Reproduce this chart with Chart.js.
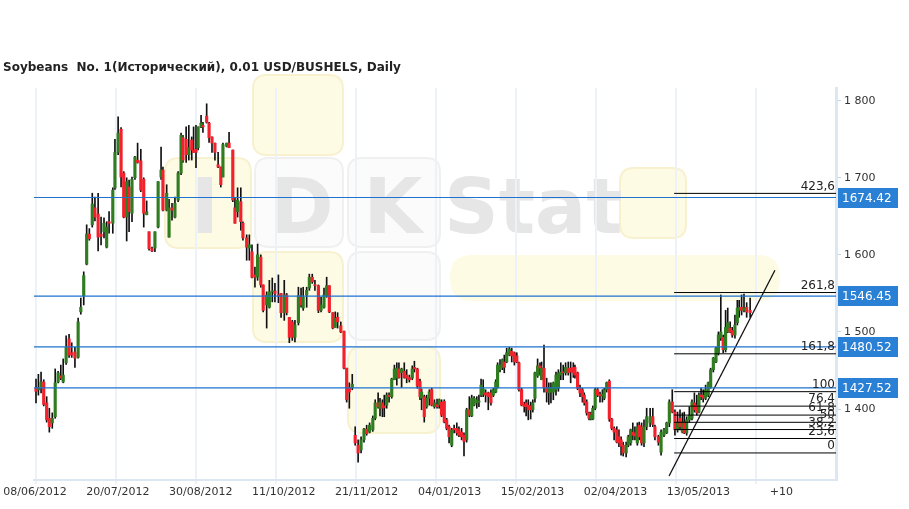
<!DOCTYPE html>
<html>
<head>
<meta charset="utf-8">
<script src="https://cdn.jsdelivr.net/npm/chart.js@4.4.1/dist/chart.umd.min.js"></script>
<style>
  html, body { margin: 0; padding: 0; background: #fff; }
  #wrap { width: 909px; height: 509px; }
</style>
</head>
<body>
<div id="wrap"><canvas id="chart" width="909" height="509"></canvas></div>
<script>
// ========================================
// DATA
// ========================================

const TITLE = 'Soybeans  No. 1(Исторический), 0.01 USD/BUSHELS, Daily';

// x labels (they sit a little off the 30-bar grid, as in the source chart)
const X_TICK_LABELS = ['08/06/2012', '20/07/2012', '30/08/2012', '11/10/2012', '21/11/2012',
    '04/01/2013', '15/02/2013', '02/04/2013', '13/05/2013', '+10'];
const X_GRID_STEP = 30;
const X_LABEL_STEP = 31.1;

const Y_TICKS = [1400, 1500, 1600, 1700, 1800];

// bar position (trading days from 08/06/2012)
const BAR_POS = [
    0, 0.9, 1.9, 2.9, 4.0, 5.0, 6.1, 7.2, 8.3, 9.3,
    10.2, 11.3, 12.4, 13.4, 14.6, 15.8, 16.8, 17.9, 19.0, 20.0,
    21.1, 22.1, 23.3, 24.4, 25.5, 26.5, 27.4, 28.8, 29.6, 30.8,
    31.9, 32.9, 34.0, 34.9, 36.0, 37.1, 38.1, 39.3, 40.4, 41.5,
    42.4, 43.5, 44.6, 45.8, 46.9, 47.6, 49.0, 49.9, 51.0, 52.1,
    53.3, 54.4, 55.1, 56.3, 57.3, 58.4, 59.1, 60.0, 60.8, 61.9,
    62.6, 64.0, 64.9, 66.0, 67.1, 68.3, 69.3, 70.1, 71.5, 72.4,
    73.8, 74.6, 75.6, 76.8, 77.6, 79.0, 80.0, 81.0, 82.1, 83.1,
    84.3, 85.2, 86.5, 87.5, 88.6, 89.6, 90.9, 91.9, 93.1, 94.0,
    95.0, 96.1, 97.1, 98.4, 99.4, 100.2, 101.5, 102.5, 103.6, 104.6,
    105.9, 106.9, 108.0, 109.0, 110.0, 111.3, 112.2, 113.1, 114.3, 115.5,
    116.5, 117.5, 118.6, 119.7, 120.8, 121.9, 123.0, 124.0, 125.1, 126.3,
    127.2, 128.3, 129.0, 129.9, 130.6, 131.5, 132.4, 133.4, 134.4, 135.3,
    136.1, 137.1, 138.1, 139.0, 140.0, 141.1, 141.9, 143.0, 144.0, 144.6,
    145.6, 146.5, 147.5, 148.4, 149.4, 150.4, 151.2, 152.1, 153.1, 154.0,
    154.9, 155.9, 156.8, 157.8, 158.6, 159.6, 160.5, 161.5, 162.5, 163.4,
    164.3, 165.3, 166.1, 166.9, 167.7, 168.6, 169.6, 170.6, 171.5, 172.4,
    173.1, 174.0, 174.9, 175.6, 176.5, 177.5, 178.4, 179.4, 180.3, 181.1,
    182.1, 183.1, 183.8, 184.6, 185.5, 186.3, 187.1, 188.1, 189.0, 189.6,
    190.5, 191.5, 192.3, 193.1, 194.0, 195.0, 195.9, 196.8, 197.7, 198.6,
    199.6, 200.5, 201.5, 202.1, 203.1, 204.0, 204.9, 205.6, 206.5, 207.4,
    208.1, 208.8, 209.7, 210.6, 211.5, 212.4, 213.1, 214.0, 215.0, 215.9,
    216.8, 217.8, 218.6, 219.4, 220.2, 221.3, 222.1, 223.0, 223.8, 224.6,
    225.5, 226.2, 227.1, 228.0, 229.0, 230.3, 231.3, 232.1, 233.4, 234.4,
    235.5, 236.5, 237.5, 238.6, 239.6, 240.6, 241.5, 242.4, 243.1, 244.0,
    245.0, 246.0, 246.9, 247.8, 248.6, 249.4, 250.2, 251.1, 252.1, 253.0,
    254.0, 255.0, 255.9, 256.8, 257.7, 258.6, 259.4, 260.3, 261.1, 262.1,
    263.0, 263.7, 264.6, 265.5, 266.5, 267.8
];

const OPEN = [
    1427, 1425, 1427, 1435, 1408, 1388, 1382, 1390, 1435, 1443,
    1435, 1460, 1491, 1473, 1474, 1467, 1526, 1547, 1588, 1627,
    1639, 1661, 1653, 1627, 1630, 1610, 1643, 1641, 1687, 1733,
    1763, 1706, 1649, 1688, 1654, 1700, 1723, 1722, 1698, 1652,
    1630, 1608, 1609, 1636, 1701, 1710, 1658, 1623, 1661, 1649,
    1671, 1706, 1752, 1750, 1730, 1749, 1736, 1737, 1739, 1766,
    1768, 1780, 1771, 1753, 1745, 1717, 1714, 1701, 1741, 1745,
    1736, 1661, 1656, 1669, 1641, 1622, 1609, 1604, 1574, 1571,
    1597, 1561, 1535, 1532, 1552, 1553, 1548, 1550, 1525, 1548,
    1519, 1513, 1493, 1512, 1545, 1531, 1548, 1557, 1571, 1561,
    1560, 1528, 1532, 1547, 1560, 1525, 1506, 1519, 1508, 1501,
    1453, 1428, 1428, 1366, 1353, 1347, 1360, 1374, 1370, 1373,
    1388, 1408, 1401, 1408, 1404, 1405, 1418, 1416, 1438, 1440,
    1452, 1447, 1449, 1444, 1441, 1440, 1454, 1452, 1436, 1414,
    1416, 1403, 1414, 1425, 1403, 1406, 1405, 1409, 1410, 1386,
    1377, 1353, 1375, 1375, 1373, 1370, 1366, 1360, 1399, 1391,
    1405, 1408, 1409, 1418, 1419, 1421, 1421, 1421, 1418, 1422,
    1428, 1451, 1454, 1461, 1461, 1470, 1475, 1473, 1469, 1460,
    1425, 1406, 1408, 1405, 1404, 1399, 1414, 1443, 1456, 1438,
    1453, 1428, 1421, 1422, 1422, 1425, 1427, 1444, 1448, 1447,
    1453, 1453, 1454, 1454, 1447, 1427, 1425, 1418, 1409, 1395,
    1387, 1387, 1401, 1425, 1419, 1417, 1414, 1425, 1436, 1387,
    1375, 1373, 1364, 1360, 1353, 1343, 1353, 1356, 1370, 1369,
    1356, 1379, 1377, 1356, 1377, 1382, 1390, 1377, 1364, 1344,
    1366, 1369, 1382, 1409, 1396, 1373, 1388, 1370, 1383, 1369,
    1386, 1388, 1408, 1405, 1396, 1418, 1418, 1414, 1418, 1428,
    1451, 1461, 1473, 1492, 1493, 1477, 1500, 1505, 1502, 1496,
    1512, 1528, 1532, 1528, 1532, 1528
];

const HIGH = [
    1439, 1445, 1448, 1438, 1416, 1401, 1395, 1452, 1449, 1457,
    1465, 1495, 1497, 1486, 1480, 1518, 1544, 1578, 1639, 1634,
    1680, 1675, 1680, 1649, 1648, 1643, 1656, 1687, 1750, 1779,
    1765, 1708, 1700, 1697, 1701, 1728, 1745, 1737, 1700, 1670,
    1630, 1610, 1630, 1695, 1740, 1714, 1691, 1672, 1667, 1675,
    1708, 1758, 1755, 1766, 1768, 1753, 1766, 1768, 1766, 1781,
    1772, 1796, 1772, 1753, 1745, 1733, 1714, 1745, 1745, 1759,
    1736, 1674, 1687, 1687, 1643, 1626, 1626, 1613, 1584, 1614,
    1600, 1561, 1552, 1567, 1570, 1563, 1574, 1550, 1567, 1550,
    1519, 1515, 1515, 1558, 1557, 1558, 1558, 1575, 1575, 1567,
    1561, 1545, 1557, 1571, 1560, 1525, 1526, 1525, 1513, 1501,
    1453, 1434, 1445, 1377, 1360, 1364, 1375, 1379, 1382, 1391,
    1412, 1421, 1414, 1412, 1418, 1421, 1421, 1440, 1457, 1460,
    1460, 1453, 1460, 1451, 1444, 1456, 1462, 1453, 1439, 1426,
    1418, 1418, 1425, 1427, 1412, 1413, 1413, 1412, 1412, 1388,
    1379, 1375, 1379, 1382, 1377, 1375, 1369, 1401, 1416, 1418,
    1416, 1416, 1418, 1439, 1438, 1425, 1422, 1425, 1427, 1438,
    1460, 1464, 1465, 1470, 1479, 1480, 1479, 1474, 1473, 1461,
    1427, 1409, 1412, 1412, 1409, 1412, 1448, 1465, 1460, 1461,
    1483, 1440, 1434, 1434, 1435, 1448, 1451, 1460, 1457, 1460,
    1461, 1461, 1460, 1457, 1448, 1431, 1427, 1421, 1412, 1396,
    1396, 1404, 1427, 1427, 1422, 1425, 1427, 1435, 1438, 1388,
    1377, 1377, 1373, 1364, 1357, 1357, 1366, 1374, 1382, 1377,
    1382, 1383, 1382, 1386, 1401, 1401, 1401, 1379, 1366, 1373,
    1375, 1383, 1412, 1425, 1399, 1396, 1399, 1395, 1396, 1390,
    1403, 1412, 1421, 1418, 1421, 1427, 1425, 1431, 1435, 1453,
    1467, 1480, 1500, 1548, 1496, 1528, 1531, 1513, 1506, 1522,
    1541, 1541, 1548, 1549, 1538, 1544
];

const LOW = [
    1408, 1418, 1421, 1404, 1383, 1370, 1375, 1388, 1434, 1438,
    1434, 1458, 1467, 1467, 1454, 1466, 1523, 1535, 1587, 1619,
    1636, 1644, 1605, 1613, 1622, 1609, 1628, 1628, 1685, 1730,
    1688, 1648, 1618, 1630, 1643, 1698, 1719, 1682, 1636, 1652,
    1606, 1604, 1604, 1635, 1698, 1657, 1657, 1623, 1645, 1648,
    1669, 1704, 1720, 1720, 1723, 1723, 1733, 1713, 1736, 1765,
    1759, 1771, 1746, 1733, 1723, 1713, 1688, 1701, 1740, 1739,
    1669, 1641, 1649, 1632, 1619, 1593, 1593, 1570, 1558, 1567,
    1558, 1526, 1505, 1531, 1539, 1539, 1538, 1519, 1515, 1522,
    1486, 1489, 1487, 1509, 1532, 1528, 1532, 1554, 1563, 1554,
    1525, 1526, 1531, 1545, 1525, 1504, 1506, 1505, 1499, 1452,
    1409, 1401, 1425, 1353, 1331, 1343, 1357, 1366, 1369, 1371,
    1386, 1401, 1391, 1390, 1390, 1401, 1409, 1414, 1438, 1431,
    1440, 1428, 1440, 1434, 1435, 1438, 1448, 1427, 1412, 1399,
    1383, 1401, 1405, 1404, 1401, 1401, 1401, 1390, 1382, 1373,
    1356, 1351, 1369, 1366, 1364, 1360, 1339, 1357, 1390, 1390,
    1404, 1401, 1403, 1416, 1416, 1409, 1399, 1405, 1416, 1421,
    1427, 1448, 1451, 1447, 1460, 1469, 1461, 1457, 1460, 1423,
    1404, 1396, 1391, 1386, 1387, 1396, 1409, 1441, 1444, 1438,
    1422, 1409, 1406, 1408, 1412, 1418, 1423, 1438, 1438, 1444,
    1444, 1434, 1441, 1440, 1425, 1416, 1409, 1405, 1392, 1386,
    1386, 1386, 1399, 1416, 1409, 1409, 1412, 1422, 1384, 1373,
    1360, 1356, 1351, 1340, 1339, 1338, 1351, 1353, 1360, 1360,
    1353, 1360, 1353, 1351, 1373, 1377, 1377, 1360, 1353, 1340,
    1364, 1368, 1377, 1395, 1366, 1370, 1373, 1369, 1368, 1366,
    1383, 1386, 1396, 1392, 1395, 1412, 1409, 1412, 1416, 1427,
    1448, 1460, 1470, 1489, 1473, 1474, 1499, 1499, 1493, 1492,
    1509, 1519, 1522, 1526, 1519, 1519
];

const CLOSE = [
    1423, 1428, 1435, 1406, 1386, 1377, 1388, 1434, 1447, 1440,
    1444, 1480, 1470, 1470, 1466, 1513, 1532, 1573, 1627, 1621,
    1666, 1649, 1623, 1624, 1641, 1636, 1641, 1684, 1733, 1758,
    1701, 1649, 1695, 1656, 1698, 1727, 1720, 1684, 1654, 1656,
    1608, 1605, 1630, 1695, 1710, 1658, 1680, 1661, 1658, 1667,
    1706, 1755, 1723, 1730, 1739, 1736, 1733, 1733, 1766, 1771,
    1766, 1772, 1752, 1745, 1733, 1714, 1691, 1743, 1745, 1739,
    1671, 1641, 1671, 1643, 1622, 1610, 1613, 1571, 1571, 1600,
    1561, 1528, 1548, 1552, 1553, 1550, 1547, 1525, 1548, 1525,
    1493, 1493, 1509, 1547, 1535, 1545, 1554, 1571, 1565, 1560,
    1528, 1535, 1548, 1560, 1526, 1505, 1518, 1513, 1500, 1453,
    1412, 1422, 1432, 1356, 1343, 1360, 1374, 1368, 1379, 1388,
    1408, 1403, 1409, 1401, 1402, 1418, 1416, 1439, 1452, 1453,
    1441, 1452, 1441, 1440, 1438, 1452, 1452, 1430, 1416, 1422,
    1390, 1414, 1422, 1405, 1408, 1403, 1412, 1392, 1383, 1375,
    1364, 1373, 1373, 1369, 1366, 1364, 1358, 1399, 1392, 1414,
    1414, 1412, 1410, 1431, 1426, 1418, 1416, 1408, 1425, 1435,
    1457, 1457, 1464, 1454, 1473, 1478, 1469, 1461, 1461, 1425,
    1405, 1403, 1403, 1399, 1399, 1408, 1447, 1456, 1453, 1453,
    1428, 1422, 1427, 1427, 1434, 1444, 1447, 1448, 1447, 1454,
    1447, 1448, 1447, 1444, 1427, 1421, 1416, 1408, 1395, 1388,
    1392, 1401, 1425, 1418, 1417, 1419, 1425, 1434, 1387, 1375,
    1370, 1357, 1356, 1352, 1343, 1353, 1364, 1373, 1366, 1365,
    1377, 1364, 1356, 1377, 1390, 1390, 1380, 1364, 1357, 1370,
    1373, 1382, 1409, 1396, 1373, 1383, 1377, 1383, 1369, 1386,
    1392, 1409, 1399, 1395, 1418, 1416, 1414, 1425, 1434, 1451,
    1466, 1479, 1496, 1500, 1477, 1506, 1512, 1500, 1496, 1509,
    1531, 1532, 1528, 1531, 1526, 1525
];

// horizontal price levels (blue)
const LEVELS = [1674.42, 1546.45, 1480.52, 1427.52];

// fibonacci extension
const FIB_LOW = 1343;
const FIB_HIGH = 1422.5;
const FIB_RATIOS = [0, 23.6, 38.2, 50, 61.8, 76.4, 100, 161.8, 261.8, 423.6];
const FIB_START = 239.3;

// trend line
const TREND = [{ x: 237.4, y: 1313 }, { x: 277.1, y: 1580 }];

// ========================================
// STYLE
// ========================================

const FONT = '"DejaVu Sans", Verdana, sans-serif';
const X_MIN = -0.75;
const X_MAX = 300;
const Y_MIN = 1307.9;
const Y_MAX = 1816.5;

const COLORS = {
    up: '#2f7d20',
    down: '#f2212b',
    wick: '#111111',
    level: '#1b72cf',
    tag: '#2a80d5',
    fib: '#000000',
    text: '#333333',
    grid: '#edf2f8',
    axis: '#dce7f2',
    cream: '#fefbe5',
    creamEdge: '#f8f1cf',
    mark: '#e6e6e6'
};

Chart.defaults.font.family = FONT;

function roundRect(ctx, x, y, w, h, r) {
    ctx.beginPath();
    ctx.moveTo(x + r, y);
    ctx.lineTo(x + w - r, y);
    ctx.quadraticCurveTo(x + w, y, x + w, y + r);
    ctx.lineTo(x + w, y + h - r);
    ctx.quadraticCurveTo(x + w, y + h, x + w - r, y + h);
    ctx.lineTo(x + r, y + h);
    ctx.quadraticCurveTo(x, y + h, x, y + h - r);
    ctx.lineTo(x, y + r);
    ctx.quadraticCurveTo(x, y, x + r, y);
    ctx.closePath();
}

// background + faint logo watermark
const backgroundPlugin = {
    id: 'background',
    beforeDraw(chart) {
        const ctx = chart.ctx;
        ctx.save();
        ctx.fillStyle = '#ffffff';
        ctx.fillRect(0, 0, chart.width, chart.height);

        const cream = [
            [165, 158, 86, 90], [253, 75, 90, 80], [253, 252, 90, 90],
            [348, 347, 92, 86], [620, 168, 66, 70]
        ];
        cream.forEach(([x, y, w, h]) => {
            roundRect(ctx, x, y, w, h, 14);
            ctx.fillStyle = COLORS.cream;
            ctx.fill();
            ctx.strokeStyle = COLORS.creamEdge;
            ctx.lineWidth = 2;
            ctx.stroke();
        });
        roundRect(ctx, 450, 255, 330, 46, 22);
        ctx.fillStyle = COLORS.cream;
        ctx.fill();

        const white = [[255, 158, 88, 89], [348, 158, 92, 89], [348, 252, 92, 88]];
        white.forEach(([x, y, w, h]) => {
            roundRect(ctx, x, y, w, h, 14);
            ctx.fillStyle = '#fbfbfb';
            ctx.fill();
            ctx.strokeStyle = '#f0f0f0';
            ctx.lineWidth = 2;
            ctx.stroke();
        });

        ctx.fillStyle = COLORS.mark;
        ctx.font = 'bold 76px ' + FONT;
        ctx.textBaseline = 'alphabetic';
        ctx.textAlign = 'center';
        ctx.fillText('I', 205, 233);
        ctx.fillText('D', 302, 233);
        ctx.fillText('K', 393, 233);
        ctx.textAlign = 'left';
        ctx.fillText('Stat', 444, 233);
        ctx.restore();
    }
};

// title, fibonacci labels and level tags
const annotationPlugin = {
    id: 'annotations',
    afterDraw(chart) {
        const ctx = chart.ctx;
        const area = chart.chartArea;
        const y = chart.scales.y;
        ctx.save();

        ctx.fillStyle = '#222222';
        ctx.font = 'bold 12px ' + FONT;
        ctx.textAlign = 'left';
        ctx.textBaseline = 'middle';
        ctx.fillText(TITLE, 3, 68);

        ctx.font = '12px ' + FONT;
        ctx.textAlign = 'right';
        ctx.textBaseline = 'bottom';
        ctx.fillStyle = '#222222';
        FIB_RATIOS.forEach(r => {
            const py = y.getPixelForValue(FIB_LOW + r / 100 * (FIB_HIGH - FIB_LOW));
            ctx.fillText(String(r).replace('.', ','), area.right - 1, py - 1);
        });

        ctx.textAlign = 'left';
        ctx.textBaseline = 'middle';
        LEVELS.forEach(v => {
            const py = Math.round(y.getPixelForValue(v));
            ctx.fillStyle = COLORS.tag;
            ctx.fillRect(area.right + 2, py - 10, 60, 20);
            ctx.fillStyle = '#ffffff';
            ctx.fillText(v.toFixed(2), area.right + 6, py + 1);
        });
        ctx.restore();
    }
};

function hline(value, from, to, color, width) {
    return {
        type: 'line',
        data: [{ x: from, y: value }, { x: to, y: value }],
        borderColor: color,
        borderWidth: width,
        pointRadius: 0,
        order: 0
    };
}

const bodies = BAR_POS.map((x, i) => ({ x, y: [OPEN[i], CLOSE[i]] }));
const wicks = BAR_POS.map((x, i) => ({ x, y: [LOW[i], HIGH[i]] }));
const bodyColors = OPEN.map((o, i) => CLOSE[i] >= o ? COLORS.up : COLORS.down);

const datasets = [
    {
        type: 'bar',
        data: bodies,
        backgroundColor: bodyColors,
        barThickness: 2.5,
        minBarLength: 1,
        grouped: false,
        order: 1
    },
    {
        type: 'bar',
        data: wicks,
        backgroundColor: COLORS.wick,
        barThickness: 1,
        grouped: false,
        order: 2
    },
    ...LEVELS.map(v => hline(v, X_MIN, X_MAX, COLORS.level, 1.2)),
    ...FIB_RATIOS.map(r => hline(FIB_LOW + r / 100 * (FIB_HIGH - FIB_LOW), FIB_START, X_MAX, COLORS.fib, 1)),
    {
        type: 'line',
        data: TREND,
        borderColor: '#111111',
        borderWidth: 1.3,
        pointRadius: 0,
        order: 0
    }
];

new Chart(document.getElementById('chart'), {
    type: 'bar',
    data: { datasets },
    options: {
        responsive: false,
        animation: false,
        devicePixelRatio: 1,
        layout: { padding: { left: 34, top: 88, right: 0, bottom: 0 } },
        plugins: {
            legend: { display: false },
            tooltip: { enabled: false },
            title: { display: false }
        },
        scales: {
            x: {
                type: 'linear',
                min: X_MIN,
                max: X_MAX,
                offset: false,
                weight: 0,
                afterBuildTicks: scale => {
                    scale.ticks = X_TICK_LABELS.map((_, i) => ({ value: i * X_GRID_STEP }));
                },
                afterFit: scale => { scale.height = 5; },
                ticks: { display: false },
                grid: {
                    offset: false,
                    color: COLORS.grid,
                    lineWidth: 2,
                    tickLength: 4
                },
                border: { color: COLORS.axis, width: 2 }
            },
            xLabels: {
                type: 'linear',
                axis: 'x',
                position: 'bottom',
                min: X_MIN,
                max: X_MAX,
                offset: false,
                weight: 1,
                afterBuildTicks: scale => {
                    scale.ticks = X_TICK_LABELS.map((_, i) => ({ value: i * X_LABEL_STEP - 0.4 }));
                },
                afterFit: scale => { scale.height = 24; },
                ticks: {
                    callback: (value, index) => X_TICK_LABELS[index],
                    autoSkip: false,
                    maxRotation: 0,
                    color: COLORS.text,
                    font: { size: 11 },
                    padding: 1
                },
                grid: { display: false, drawTicks: false },
                border: { display: false }
            },
            y: {
                type: 'linear',
                position: 'right',
                min: Y_MIN,
                max: Y_MAX,
                afterBuildTicks: scale => {
                    scale.ticks = Y_TICKS.map(v => ({ value: v }));
                },
                afterFit: scale => { scale.width = 73; },
                ticks: {
                    color: COLORS.text,
                    font: { size: 11 },
                    padding: 3,
                    callback: v => String(v).replace(/\B(?=(\d{3})+(?!\d))/g, ' ')
                },
                grid: {
                    drawOnChartArea: false,
                    color: '#c8d4e0',
                    tickLength: 5
                },
                border: { color: COLORS.axis, width: 3 }
            }
        }
    },
    plugins: [backgroundPlugin, annotationPlugin]
});
</script>
</body>
</html>
